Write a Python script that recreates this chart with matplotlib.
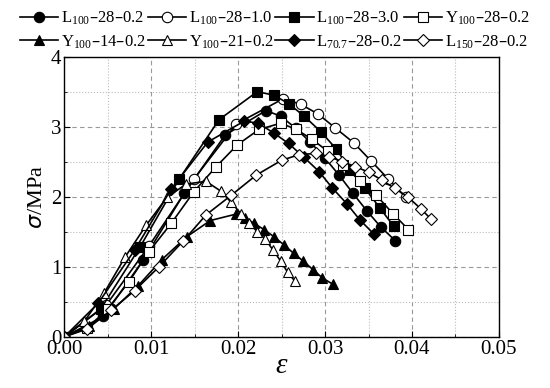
import numpy as np
from matplotlib import pyplot as plt
from matplotlib.ticker import MultipleLocator, FormatStrFormatter

plt.rcParams['font.family'] = ['Liberation Serif', 'DejaVu Serif']
plt.rcParams['mathtext.default'] = 'regular'

# strain / stress
eps_L100_02 = [0, 0.0045, 0.0091, 0.0138, 0.0185, 0.0232, 0.0249, 0.0266, 0.0283,
               0.0300, 0.0316, 0.0332, 0.0348, 0.0364, 0.0381]
sig_L100_02 = [0, 0.29, 1.10, 2.05, 2.88, 3.23, 3.15, 2.98, 2.78,
               2.55, 2.31, 2.05, 1.80, 1.57, 1.37]

eps_L100_10 = [0, 0.0048, 0.0097, 0.0149, 0.0198, 0.0252, 0.0272, 0.0292, 0.0312,
               0.0333, 0.0353, 0.0373, 0.0393]
sig_L100_10 = [0, 0.45, 1.29, 2.25, 3.04, 3.40, 3.32, 3.18, 2.98,
               2.77, 2.51, 2.25, 1.99]

eps_L100_30 = [0, 0.0042, 0.0087, 0.0132, 0.0178, 0.0222, 0.0241, 0.0258, 0.0276,
               0.0295, 0.0313, 0.0329, 0.0346, 0.0363, 0.0379]
sig_L100_30 = [0, 0.40, 1.28, 2.25, 3.10, 3.50, 3.45, 3.33, 3.15,
               2.93, 2.68, 2.38, 2.12, 1.84, 1.58]

eps_Y100_28 = [0, 0.0026, 0.0050, 0.0074, 0.0097, 0.0123, 0.0149, 0.0174, 0.0199,
               0.0224, 0.0249, 0.0267, 0.0285, 0.0303, 0.0321, 0.0340, 0.0359,
               0.0378, 0.0396]
sig_Y100_28 = [0, 0.12, 0.40, 0.78, 1.21, 1.62, 2.07, 2.42, 2.74,
               2.96, 3.05, 2.96, 2.82, 2.65, 2.45, 2.23, 2.02,
               1.76, 1.53]

eps_Y100_14 = [0, 0.0028, 0.0057, 0.0085, 0.0112, 0.0141, 0.0168, 0.0197, 0.0208,
               0.0218, 0.0230, 0.0241, 0.0253, 0.0264, 0.0275, 0.0286, 0.0297, 0.0309]
sig_Y100_14 = [0, 0.15, 0.40, 0.73, 1.10, 1.43, 1.66, 1.75, 1.70,
               1.62, 1.53, 1.43, 1.31, 1.19, 1.08, 0.96, 0.84, 0.75]

eps_Y100_21 = [0, 0.0023, 0.0046, 0.0070, 0.0094, 0.0118, 0.0140, 0.0163, 0.0180,
               0.0192, 0.0203, 0.0213, 0.0222, 0.0231, 0.0240, 0.0249, 0.0257, 0.0265]
sig_Y100_21 = [0, 0.22, 0.63, 1.14, 1.59, 1.99, 2.18, 2.22, 2.08,
               1.92, 1.76, 1.62, 1.50, 1.40, 1.24, 1.08, 0.92, 0.80]

eps_L707 = [0, 0.0039, 0.0081, 0.0123, 0.0165, 0.0207, 0.0223, 0.0241, 0.0258,
            0.0276, 0.0293, 0.0308, 0.0325, 0.0340, 0.0356]
sig_L707 = [0, 0.48, 1.24, 2.11, 2.78, 3.08, 3.05, 2.91, 2.76,
            2.56, 2.36, 2.13, 1.90, 1.67, 1.47]

eps_L150 = [0, 0.0026, 0.0054, 0.0081, 0.0109, 0.0137, 0.0163, 0.0192, 0.0221,
            0.0250, 0.0270, 0.0290, 0.0305, 0.0320, 0.0335, 0.0350, 0.0365,
            0.0380, 0.0395, 0.0410, 0.0422]
sig_L150 = [0, 0.11, 0.38, 0.66, 1.00, 1.37, 1.74, 2.02, 2.31,
            2.52, 2.60, 2.62, 2.57, 2.50, 2.43, 2.35, 2.24,
            2.12, 2.00, 1.83, 1.68]

series = [
    (eps_L100_02, sig_L100_02, 'o', 'k', 'L$_{100}$\u201328\u20130.2'),
    (eps_L100_10, sig_L100_10, 'o', 'w', 'L$_{100}$\u201328\u20131.0'),
    (eps_L100_30, sig_L100_30, 's', 'k', 'L$_{100}$\u201328\u20133.0'),
    (eps_Y100_28, sig_Y100_28, 's', 'w', 'Y$_{100}$\u201328\u20130.2'),
    (eps_Y100_14, sig_Y100_14, '^', 'k', 'Y$_{100}$\u201314\u20130.2'),
    (eps_Y100_21, sig_Y100_21, '^', 'w', 'Y$_{100}$\u201321\u20130.2'),
    (eps_L707, sig_L707, 'D', 'k', 'L$_{70.7}$\u201328\u20130.2'),
    (eps_L150, sig_L150, 'D', 'w', 'L$_{150}$\u201328\u20130.2'),
]

fig = plt.figure(figsize=(5.5, 3.88), dpi=100)
ax = fig.add_axes([0.117, 0.132, 0.79, 0.722])

lines = []
for x, y, m, fc, lab in series:
    ms = 6 if m == 'D' else 7.5
    ln, = ax.plot(x, y, color='k', lw=1.2, marker=m, ms=ms, mfc=fc, mec='k',
                  mew=0.8, label=lab)
    lines.append(ln)

ax.set_xlim(0, 0.05)
ax.set_ylim(0, 4)
ax.xaxis.set_major_locator(MultipleLocator(0.01))
ax.xaxis.set_minor_locator(MultipleLocator(0.005))
ax.yaxis.set_major_locator(MultipleLocator(1))
ax.yaxis.set_minor_locator(MultipleLocator(0.5))
ax.xaxis.set_major_formatter(FormatStrFormatter('%.2f'))
ax.grid(which='major', ls=(0, (4, 3)), color='#999999', lw=0.8)
ax.grid(which='minor', ls=':', color='#bbbbbb', lw=0.8)
ax.tick_params(which='both', direction='in', labelsize=15, pad=2)
ax.tick_params(which='major', length=4)
ax.tick_params(which='minor', length=2.5)
for s in ax.spines.values():
    s.set_linewidth(1.0)

ax.set_xlabel('\u03b5', fontsize=21, style='italic', labelpad=-4)
ax.set_ylabel('$\\it{\u03c3}$/MPa', fontsize=16, labelpad=3)

# legend filled row by row
order = [0, 4, 1, 5, 2, 6, 3, 7]
fig.legend([lines[i] for i in order], [series[i][4] for i in order],
           loc='upper center', bbox_to_anchor=(0.5, 1.0), ncol=4,
           frameon=False, fontsize=12, handlelength=2.3, handletextpad=0.15,
           columnspacing=0.1, labelspacing=0.35, borderaxespad=0.2)

fig.savefig('out.png', dpi=100)
